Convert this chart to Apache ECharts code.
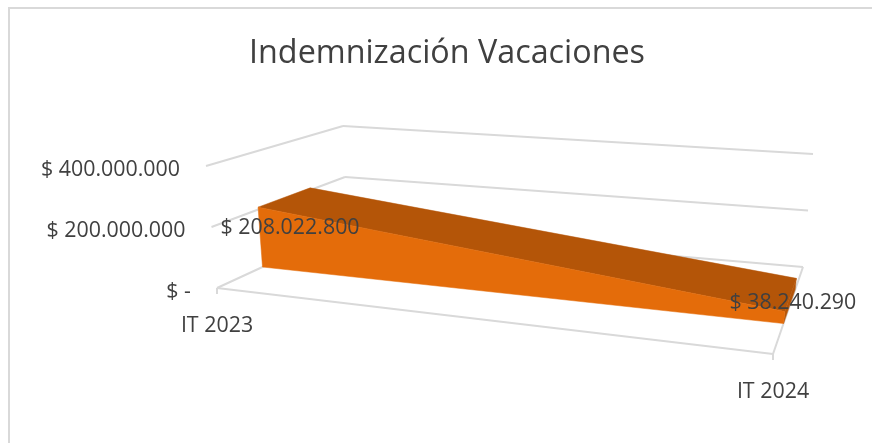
<!DOCTYPE html>
<html>
<head>
<meta charset="utf-8">
<style>html,body{margin:0;padding:0;background:#fff}#c{width:872px;height:443px}</style>
<script src="https://cdn.jsdelivr.net/npm/echarts@6/dist/echarts.min.js"></script>
</head>
<body>
<div id="c"></div>
<script>
const titleText = 'Indemnización Vacaciones';
const categories = ['IT 2023', 'IT 2024'];
const seriesValues = [208022800, 38240290];
const seriesLabels = ['$ 208.022.800', '$ 38.240.290'];
const tickValues = [0, 200000000, 400000000];
const tickLabels = ['$ -', '$ 200.000.000', '$ 400.000.000'];

const FONT = '"Open Sans", sans-serif';
const GRID = '#d9d9d9', TEXT = '#404040';
const FRONT = '#e46c0a', DARK = '#b45508';
// Perspective box corners [x, y]: f = front, b = back, l/r = side, 0/1 = axis bottom/top
const box = {
  fl0: [217, 288], fr0: [773, 354], bl0: [347, 228], br0: [803, 267],
  fl1: [206, 166], fr1: [790, 222], bl1: [343, 126], br1: [813, 154]
};
const D0 = 0.35, D1 = 0.74;          // depth slab occupied by the area
const lerp = (a, b, k) => [a[0] + (b[0] - a[0]) * k, a[1] + (b[1] - a[1]) * k];
function project(t, d, v) {
  const b0 = lerp(lerp(box.fl0, box.fr0, t), lerp(box.bl0, box.br0, t), d);
  const b1 = lerp(lerp(box.fl1, box.fr1, t), lerp(box.bl1, box.br1, t), d);
  return lerp(b0, b1, v);
}
// Convert library scale output into normalised box coordinates
function norm(api, params, cat, val) {
  const p = api.coord([cat, val]);
  const cs = params.coordSys;
  return [(p[0] - cs.x) / cs.width, 1 - (p[1] - cs.y) / cs.height];
}
const poly = (points, fill) => ({ type: 'polygon', shape: { points }, style: { fill, stroke: fill, lineWidth: 0.5 } });
const seg = (a, b) => ({ type: 'line', shape: { x1: a[0], y1: a[1], x2: b[0], y2: b[1] }, style: { stroke: GRID, lineWidth: 2 } });
const txt = (text, x, y, align, size) => ({ type: 'text', x, y, style: { text, fill: TEXT, font: size + 'px ' + FONT, align, verticalAlign: 'middle' } });

const VALUE_LABEL_DX = -26, VALUE_LABEL_DY = 3.5, CAT_LABEL_DY = 37.5, TICK_LEN = 6, FONT_SIZE = 21.4;
const dataLabelOffset = [[32, 21], [8, -9]];

const option = {
  animation: false,
  backgroundColor: '#fff',
  title: { text: titleText, left: 442, top: 33, textAlign: 'center',
    textStyle: { fontFamily: FONT, fontSize: 32.3, fontWeight: 'normal', color: TEXT } },
  graphic: [
    { type: 'line', shape: { x1: 9, y1: 8, x2: 872, y2: 8 }, style: { stroke: GRID, lineWidth: 2 } },
    { type: 'line', shape: { x1: 9, y1: 7, x2: 9, y2: 443 }, style: { stroke: GRID, lineWidth: 2 } }
  ],
  grid: { left: 200, right: 100, top: 100, bottom: 100 },
  xAxis: { type: 'category', data: categories, boundaryGap: false, show: false },
  yAxis: { type: 'value', min: 0, max: 400000000, interval: 200000000, show: false },
  series: [
    { // walls, floor and value axis labels
      type: 'custom', coordinateSystem: 'cartesian2d', clip: false, z: 1,
      data: tickValues.map((v, i) => [0, v, i]),
      encode: { x: 0, y: 1 },
      renderItem(params, api) {
        const [, v] = norm(api, params, 0, api.value(1));
        const i = api.value(2);
        const children = [seg(project(0, 0, v), project(0, 1, v)), seg(project(0, 1, v), project(1, 1, v))];
        const p = project(0, 0, v);
        children.push(txt(tickLabels[i], p[0] + VALUE_LABEL_DX, p[1] + VALUE_LABEL_DY, 'right', FONT_SIZE));
        return { type: 'group', children };
      }
    },
    { // floor front edge, right edge, ticks, category labels
      type: 'custom', coordinateSystem: 'cartesian2d', clip: false, z: 1,
      data: categories.map((c, i) => [i, 0]),
      encode: { x: 0, y: 1 },
      renderItem(params, api) {
        const i = api.value(0);
        const [t] = norm(api, params, i, 0);
        const p = project(t, 0, 0);
        const children = [seg(p, [p[0], p[1] + TICK_LEN]), txt(categories[i], p[0], p[1] + CAT_LABEL_DY, 'center', FONT_SIZE)];
        if (i === 0) children.push(seg(p, project(1, 0, 0)));
        else children.push(seg(p, project(1, 1, 0)));
        return { type: 'group', children };
      }
    },
    { // the 3D area
      type: 'custom', coordinateSystem: 'cartesian2d', clip: false, z: 2,
      data: seriesValues.map((v, i) => [i, v]),
      encode: { x: 0, y: 1 },
      renderItem(params, api) {
        const i = api.value(0);
        if (i + 1 >= seriesValues.length) return { type: 'group', children: [] };
        const [t0, v0] = norm(api, params, i, seriesValues[i]);
        const [t1, v1] = norm(api, params, i + 1, seriesValues[i + 1]);
        return { type: 'group', children: [
          poly([project(t1, D0, v1), project(t1, D1, v1), project(t1, D1, 0), project(t1, D0, 0)], DARK),
          poly([project(t0, D0, v0), project(t0, D1, v0), project(t1, D1, v1), project(t1, D0, v1)], DARK),
          poly([project(t0, D0, v0), project(t1, D0, v1), project(t1, D0, 0), project(t0, D0, 0)], FRONT)
        ] };
      }
    },
    { // data labels
      type: 'custom', coordinateSystem: 'cartesian2d', clip: false, z: 3,
      data: seriesValues.map((v, i) => [i, v]),
      encode: { x: 0, y: 1 },
      renderItem(params, api) {
        const i = api.value(0);
        const [t, v] = norm(api, params, i, api.value(1));
        const p = project(t, D0, v);
        return txt(seriesLabels[i], p[0] + dataLabelOffset[i][0], p[1] + dataLabelOffset[i][1], 'center', FONT_SIZE);
      }
    }
  ]
};
echarts.init(document.getElementById('c'), null, { renderer: 'canvas' }).setOption(option);
</script>
</body>
</html>
